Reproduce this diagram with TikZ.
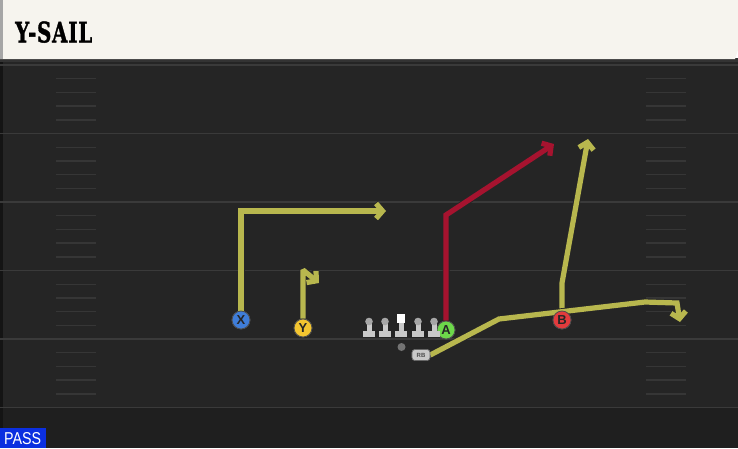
\documentclass[tikz,border=0pt]{standalone}
\usepackage{fontspec}
\usepackage{graphicx}
\usetikzlibrary{arrows.meta}
\newfontfamily\titlefont{DejaVu Serif}[BoldFeatures={FakeBold=1.5, LetterSpace=4}]
\newfontfamily\labfont{Liberation Sans}
\definecolor{field}{HTML}{252525}
\definecolor{fieldlow}{HTML}{1F1F1F}
\definecolor{yardc}{HTML}{3A3A3A}
\definecolor{hashc}{HTML}{363636}
\definecolor{cream}{HTML}{F6F4EE}
\definecolor{routey}{HTML}{B8B74E}
\definecolor{router}{HTML}{A6132F}
\definecolor{pX}{HTML}{3F7DD8}
\definecolor{pY}{HTML}{F3C530}
\definecolor{pA}{HTML}{6DD84A}
\definecolor{pB}{HTML}{E23B3D}
\definecolor{passblue}{HTML}{0B2FE0}
\definecolor{lineman}{HTML}{C9C9C9}
\tikzset{
  yard/.style={draw=yardc, line width=1.8pt},
  hashm/.style={draw=hashc, line width=1.4pt},
  route/.style={line width=5.2pt, line join=miter, miter limit=2, -{Straight Barb[length=6.5pt,width=15pt]},
    preaction={draw=black!85, line width=7pt}},
  routeY/.style={route, draw=routey},
  routeR/.style={route, draw=router},
  player/.style={circle, minimum size=18pt, inner sep=0pt, draw=black!70, line width=0.8pt,
    font=\labfont\bfseries\fontsize{13pt}{13pt}\selectfont, text=black!85},
  rbstyle/.style={fill=lineman, draw=black!60, line width=0.6pt, rounded corners=3pt, minimum width=18pt, minimum height=11pt, inner sep=0pt,
    font=\labfont\bfseries\fontsize{6pt}{6pt}\selectfont, text=black!70},
}
\begin{document}
\begin{tikzpicture}[x=1pt,y=-1pt]
\useasboundingbox (0,0) rectangle (738,448);
% field
\fill[field] (0,59) rectangle (738,448);
\fill[fieldlow] (0,408) rectangle (738,448);
\fill[black!45!field] (0,59) rectangle (2.5,448);
% yard lines
\foreach \y in {65,133.5,202,270.5,339,407.5}
  \draw[yard] (0,\y) -- (738,\y);
% hash marks
\foreach \base in {65,133.5,202,270.5,339}
  \foreach \k in {1,2,3,4}{
    \draw[hashm] (56,{\base+13.7*\k}) -- (96,{\base+13.7*\k});
    \draw[hashm] (646,{\base+13.7*\k}) -- (686,{\base+13.7*\k});
  }
% header
\fill[black!80] (0,58) rectangle (738,62);
\fill[cream] (0,0) -- (738,0) -- (738,50) -- (735,59) -- (0,59) -- cycle;
\fill[black!35] (0,0) rectangle (3,59);
\node[anchor=south west, inner sep=0pt] (title) at (15,43)
  {\resizebox{77pt}{21pt}{\titlefont\bfseries Y-SAIL}};
% PASS label
\node[fill=passblue, anchor=south west, minimum width=46pt, minimum height=20pt, inner sep=0pt] (pass) at (0,448) {};
\node[anchor=south west, inner sep=0pt, text=white] (passtxt) at (4,445)
  {\resizebox{37pt}{12pt}{\labfont PASS}};
% players
\node[player, fill=pX] (X) at (241,320) {X};
\node[player, fill=pY] (Y) at (303,328) {Y};
\node[player, fill=pA] (A) at (446,330) {A};
\node[player, fill=pB] (B) at (562,320) {B};
\node[rbstyle] (RB) at (421,355) {RB};
% route waypoints
\coordinate (x1) at (241,211);
\coordinate (x2) at (386,211);
\coordinate (y1) at (303,270);
\coordinate (y2) at (319,283);
\coordinate (a1) at (446,215);
\coordinate (a2) at (554,144);
\coordinate (b1) at (562,283);
\coordinate (b2) at (588,139);
\coordinate (r1) at (499,319);
\coordinate (r2) at (645,302);
\coordinate (r3) at (677,303);
\coordinate (r4) at (680,322);
% routes
\draw[routeY] (X.north) -- (x1) -- (x2);
\draw[routeY] (Y.north) -- (y1) -- (y2);
\draw[routeR] (A.north) -- (a1) -- (a2);
\draw[routeY] (B.north) -- (b1) -- (b2);
\draw[routeY] (RB.east) -- (r1) -- (r2) -- (r3) -- (r4);
% redraw players on top
\node[player, fill=pX] (X2) at (X) {X};
\node[player, fill=pY] (Y2) at (Y) {Y};
\node[player, fill=pA] (A2) at (A) {A};
\node[player, fill=pB] (B2) at (B) {B};
\node[rbstyle] (RB2) at (RB) {RB};
% offensive line
\foreach \lx in {369,385,418,434}{
  \fill[lineman] (\lx-6,331) rectangle (\lx+6,336.5);
  \fill[lineman] (\lx-2.5,324) rectangle (\lx+2.5,332);
  \fill[black!35] (\lx,321.5) circle (3.8pt);
}
\fill[lineman] (401-6,331) rectangle (401+6,336.5);
\fill[lineman] (401-2.5,322) rectangle (401+2.5,332);
\fill[white] (397,314) rectangle (405,323);
% ball
\fill[black!55] (401.5,347) circle (4pt);
\end{tikzpicture}
\end{document}
